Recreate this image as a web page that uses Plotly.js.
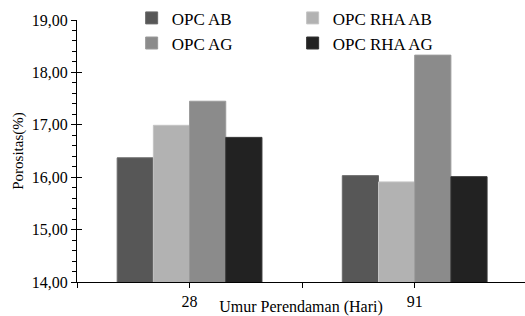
<!DOCTYPE html>
<html>
<head>
<meta charset="utf-8">
<script src="https://cdn.plot.ly/plotly-3.0.1.min.js"></script>
<style>html,body{margin:0;padding:0;background:#fff;}#chart{width:525px;height:316px;}</style>
</head>
<body>
<div id="chart"></div>
<script>
var categories = ['28', '91'];
var seriesNames = ['OPC AB', 'OPC RHA AB', 'OPC AG', 'OPC RHA AG'];
var opcAB = [16.37, 16.03];
var opcRhaAB = [16.99, 15.91];
var opcAG = [17.45, 18.33];
var opcRhaAG = [16.76, 16.01];
var seriesValues = [opcAB, opcRhaAB, opcAG, opcRhaAG];
var colors = ['#575757', '#b2b2b2', '#8b8b8b', '#222222'];
var lineColors = ['#6a6a6a', '#c4c4c4', '#9a9a9a', '#333333'];

var xpos = categories.map(function (c, i) { return i; });
var FONT = '"Liberation Serif", "DejaVu Serif", serif';

var traces = seriesNames.map(function (name, k) {
  return {
    type: 'bar',
    name: name,
    x: xpos,
    y: seriesValues[k],
    marker: { color: colors[k], line: { color: lineColors[k], width: 1 } },
    hoverinfo: 'y+name'
  };
});
// overlay axis for inward-crossing ticks
traces.push({ type: 'scatter', x: [0], y: [14], yaxis: 'y2', mode: 'markers', marker: { opacity: 0 }, showlegend: false, hoverinfo: 'skip' });

var layout = {
  width: 525, height: 316,
  margin: { l: 77, r: 0, t: 20, b: 34 },
  paper_bgcolor: '#fff', plot_bgcolor: '#fff',
  font: { family: FONT, size: 16, color: '#000' },
  separators: ',.',
  barmode: 'group',
  bargap: 0.357,
  bargroupgap: 0,
  showlegend: true,
  legend: {
    orientation: 'h', x: 0.122, xanchor: 'left', y: 1.075, yanchor: 'top',
    entrywidth: 116, entrywidthmode: 'pixels',
    font: { family: FONT, size: 17 },
    bgcolor: 'rgba(0,0,0,0)', traceorder: 'normal'
  },
  xaxis: {
    range: [-0.5, 1.49],
    tickmode: 'array', tickvals: xpos, ticktext: categories,
    ticks: 'outside', ticklen: 5, tickcolor: '#000',
    minor: { tick0: 0.5, dtick: 0.5, ticks: 'outside', ticklen: 5, tickcolor: '#000' },
    showline: true, linecolor: '#000', linewidth: 1,
    showgrid: false, zeroline: false,
    tickfont: { family: FONT, size: 16 },
    title: { text: 'Umur Perendaman (Hari)', font: { family: FONT, size: 16 }, standoff: 0 },
    fixedrange: true
  },
  yaxis: {
    range: [14, 19], dtick: 1, tick0: 14, tickformat: '.2f',
    ticks: 'outside', ticklen: 5, tickcolor: '#000',
    minor: { dtick: 0.2, ticks: 'outside', ticklen: 4, tickcolor: '#000' },
    showline: true, linecolor: '#000', linewidth: 1,
    showgrid: false, zeroline: false,
    tickfont: { family: FONT, size: 16 },
    title: { text: 'Porositas(%)', font: { family: FONT, size: 15 }, standoff: 4 },
    fixedrange: true
  },
  yaxis2: {
    overlaying: 'y', side: 'left', range: [14, 19], dtick: 1, tick0: 14,
    ticks: 'inside', ticklen: 5, tickcolor: '#000', showticklabels: false,
    showline: false, showgrid: false, zeroline: false, fixedrange: true
  }
};

Plotly.newPlot('chart', traces, layout, { displayModeBar: false, staticPlot: true });
</script>
</body>
</html>
